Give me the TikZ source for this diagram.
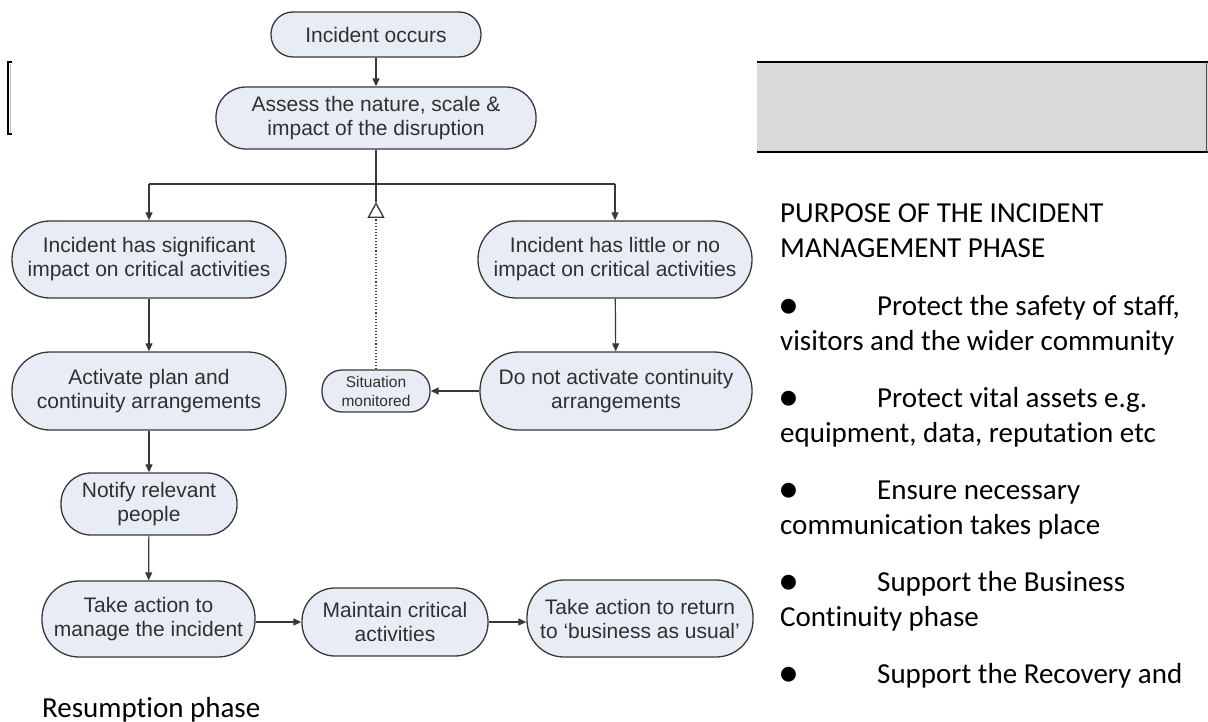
\documentclass[tikz,border=0pt]{standalone}
\usepackage{fontspec}
\setmainfont[Ligatures=NoCommon]{Carlito}
\newfontfamily\diafont{Liberation Sans}
\usetikzlibrary{arrows.meta}
\definecolor{boxfill}{HTML}{E8ECF4}
\definecolor{boxline}{HTML}{383838}
\definecolor{boxtext}{HTML}{303030}
\definecolor{grayband}{HTML}{D9D9D9}
\begin{document}
\begin{tikzpicture}[x=1pt,y=-1pt,
  pill/.style={draw=boxline, line width=1.3pt, fill=boxfill, inner sep=0pt,
    align=center, text=boxtext, font=\diafont\fontsize{21}{24}\selectfont},
  smallpill/.style={pill, font=\diafont\fontsize{15.5}{19}\selectfont},
  conn/.style={draw=boxline, line width=1.2pt, -{Triangle[length=8pt,width=7pt]}},
  plain/.style={draw=boxline, line width=1.2pt},
  rt/.style={anchor=base west, inner sep=0pt, font=\fontsize{29}{35.5}\selectfont, text=black},
  bul/.style={anchor=base west, inner sep=0pt, font=\fontsize{42}{42}\selectfont, text=black}
]
\useasboundingbox (0,0) rectangle (1208,722);
% gray band and bracket
\fill[grayband] (757,62) rectangle (1208,153);
\draw[line width=2pt, black] (757,62.5) -- (1208,62.5);
\draw[line width=2pt, black] (757,152.5) -- (1208,152.5);
\draw[line width=1pt, black!70] (1206.5,62) -- (1206.5,153);
\draw[line width=2pt, black] (11.5,62.5) -- (8,62.5) -- (8,134.5) -- (11.5,134.5);
\draw[line width=1pt, black!25] (10.5,64) -- (10.5,133);

% nodes
\node[pill, minimum width=210pt, minimum height=45pt, rounded corners=22pt] (occ) at (376,34.5) {Incident occurs};
\node[pill, minimum width=320pt, minimum height=62pt, rounded corners=30pt] (assess) at (376,118) {Assess the nature, scale \&\\impact of the disruption};
\node[pill, minimum width=274pt, minimum height=77pt, rounded corners=38pt] (sig) at (149,259.5) {Incident has significant\\impact on critical activities};
\node[pill, minimum width=274pt, minimum height=77pt, rounded corners=38pt] (lit) at (615,259.5) {Incident has little or no\\impact on critical activities};
\node[pill, minimum width=274pt, minimum height=78pt, rounded corners=38pt] (act) at (149,391) {Activate plan and\\continuity arrangements};
\node[pill, minimum width=272pt, minimum height=78pt, rounded corners=38pt] (dna) at (616,391) {Do not activate continuity\\arrangements};
\node[smallpill, minimum width=108pt, minimum height=42pt, rounded corners=20pt] (sit) at (376,391) {Situation\\monitored};
\node[pill, minimum width=176pt, minimum height=62pt, rounded corners=30pt] (notify) at (149,504) {Notify relevant\\people};
\node[pill, minimum width=213pt, minimum height=76pt, rounded corners=37pt] (take) at (148.5,619) {Take action to\\manage the incident};
\node[pill, minimum width=186pt, minimum height=68pt, rounded corners=33pt] (maint) at (395,622) {Maintain critical\\activities};
\node[pill, minimum width=226pt, minimum height=77pt, rounded corners=37pt] (ret) at (640,618.5) {Take action to return\\to ‘business as usual’};

% connectors
\coordinate (jn) at (376,184);
\coordinate (jl) at (149,184);
\coordinate (jr) at (615,184);
\coordinate (tip) at (376,202);
\draw[conn] (occ) -- (assess);
\draw[plain] (assess.south) -- (tip);
\draw[plain] (jl) -- (jr);
\draw[conn] (jl) -- (sig.north);
\draw[conn] (jr) -- (lit.north);
\draw[draw=boxline, line width=1.1pt, dotted, -{Triangle[open, length=16pt, width=17pt, fill=white, line width=1.3pt]}] (sit.north) -- (tip);
\draw[conn] (sig) -- (act);
\draw[conn] (act) -- (notify);
\draw[conn] (notify) -- (take);
\draw[conn] (lit) -- (dna);
\draw[conn] (dna) -- (sit);
\draw[conn] (take.east |- maint.west) -- (maint.west);
\draw[conn] (maint.east) -- (maint.east -| ret.west);

% right-hand text
\node[rt] (h1) at (780,222.5) {PURPOSE OF THE INCIDENT};
\node[rt] (h2) at (780,258) {MANAGEMENT PHASE};
\node[bul] (b1) at (778,318) {•};
\node[rt] (t1a) at (877,315) {Protect the safety of staff,};
\node[rt] (t1b) at (780,350.5) {visitors and the wider community};
\node[bul] (b2) at (778,410) {•};
\node[rt] (t2a) at (877,407) {Protect vital assets e.g.};
\node[rt] (t2b) at (780,442.5) {equipment, data, reputation etc};
\node[bul] (b3) at (778,502) {•};
\node[rt] (t3a) at (877,499) {Ensure necessary};
\node[rt] (t3b) at (780,534.5) {communication takes place};
\node[bul] (b4) at (778,594) {•};
\node[rt] (t4a) at (877,591) {Support the Business};
\node[rt] (t4b) at (780,626.5) {Continuity phase};
\node[bul] (b5) at (778,686) {•};
\node[rt] (t5a) at (877,683) {Support the Recovery and};
\node[rt] (t5b) at (42,717) {Resumption phase};
\end{tikzpicture}
\end{document}
